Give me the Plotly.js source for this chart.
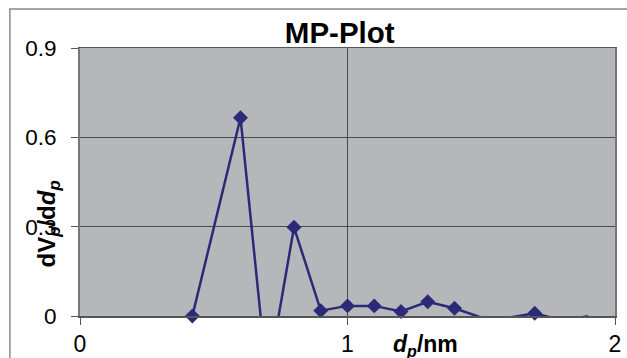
<!DOCTYPE html>
<html>
<head>
<meta charset="utf-8">
<script src="https://cdn.plot.ly/plotly-3.0.1.min.js"></script>
<style>
  html, body { margin: 0; padding: 0; background: #ffffff; }
  #chart { width: 627px; height: 358px; }
</style>
</head>
<body>
<div id="chart"></div>
<script>
// Data
const poreDiameter = [0.42, 0.6, 0.7, 0.8, 0.9, 1.0, 1.1, 1.2, 1.3, 1.4, 1.5, 1.6, 1.7, 1.8, 1.9];
const dVpddp = [0.0, 0.666, -0.22, 0.298, 0.018, 0.034, 0.034, 0.015, 0.048, 0.026, -0.005, -0.006, 0.009, -0.014, -0.001];
const xTickVals = [0, 1, 2];
const xTickText = ['0', '1', '2'];
const yTickVals = [0, 0.3, 0.6, 0.9];
const yTickText = ['0', '0.3', '0.6', '0.9'];

const lineColor = '#2b2a78';
// markers only where the point lies inside the plotted range (as in the reference)
const markerSizes = dVpddp.map(v => (v >= 0 ? 11.5 : 0));

const trace = {
  x: poreDiameter,
  y: dVpddp,
  type: 'scatter',
  mode: 'lines+markers',
  cliponaxis: false,
  line: { color: lineColor, width: 2.5 },
  marker: { symbol: 'diamond', size: markerSizes, color: lineColor, opacity: 1, line: { width: 0 } },
  hoverinfo: 'x+y'
};

const font = 'Arial, "Liberation Sans", sans-serif';

const layout = {
  width: 627,
  height: 358,
  margin: { l: 80, r: 12, t: 48, b: 42 },
  paper_bgcolor: '#ffffff',
  plot_bgcolor: '#b6b7bb',
  showlegend: false,
  font: { family: font, color: '#000000' },
  title: {
    text: '<b>MP-Plot</b>',
    font: { family: font, size: 29.5, color: '#000000' },
    x: 0.4855, xref: 'paper', xanchor: 'center',
    y: 0.908, yref: 'container', yanchor: 'middle'
  },
  xaxis: {
    range: [0, 2],
    tickmode: 'array',
    tickvals: xTickVals,
    ticktext: xTickText,
    ticks: 'outside',
    ticklen: 7,
    tickcolor: '#555555',
    tickwidth: 1,
    ticklabelstandoff: 0,
    tickfont: { family: font, size: 23, color: '#000000' },
    showgrid: true,
    gridcolor: '#4a4a4a',
    gridwidth: 1,
    zeroline: false,
    showline: true,
    linecolor: '#555555',
    linewidth: 1.5,
    mirror: true
  },
  yaxis: {
    range: [0, 0.9],
    tickmode: 'array',
    tickvals: yTickVals,
    ticktext: yTickText,
    ticks: 'outside',
    ticklen: 7,
    tickcolor: '#555555',
    tickwidth: 1,
    ticklabelstandoff: 10,
    tickfont: { family: font, size: 22.5, color: '#000000' },
    showgrid: true,
    gridcolor: '#4a4a4a',
    gridwidth: 1,
    zeroline: false,
    showline: true,
    linecolor: '#777777',
    linewidth: 2,
    mirror: true
  },
  shapes: [{
    type: 'rect', xref: 'paper', yref: 'paper',
    x0: -0.131, x1: 1.2, y0: -0.5, y1: 1.1455,
    line: { color: '#8a8a8a', width: 1.5 },
    fillcolor: 'rgba(0,0,0,0)',
    layer: 'below'
  }],
  annotations: [
    {
      text: '<b>dV<sub><i>p</i></sub>/d<i>d<sub>p</sub></i></b>',
      xref: 'paper', yref: 'paper',
      x: -0.058, y: 0.345,
      xanchor: 'center', yanchor: 'middle',
      textangle: -90,
      showarrow: false,
      font: { family: font, size: 24, color: '#000000' }
    },
    {
      text: '<b><i>d<sub>p</sub></i>/nm</b>',
      xref: 'paper', yref: 'paper',
      x: 0.645, y: -0.11,
      xanchor: 'center', yanchor: 'middle',
      showarrow: false,
      font: { family: font, size: 23, color: '#000000' }
    }
  ]
};

Plotly.newPlot('chart', [trace], layout, { displayModeBar: false, staticPlot: true });
</script>
</body>
</html>
